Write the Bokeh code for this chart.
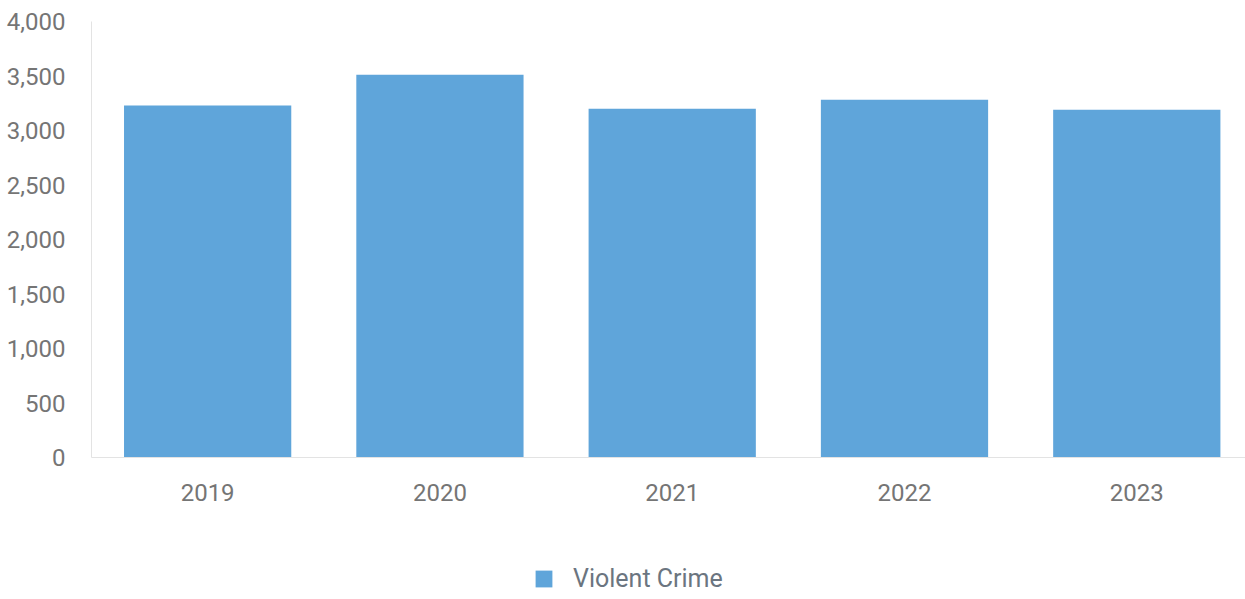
from bokeh.plotting import figure
from bokeh.layouts import column
from bokeh.models import Range1d, Legend, LegendItem, NumeralTickFormatter, FixedTicker, ColumnDataSource
from bokeh.embed import file_html
from bokeh.resources import INLINE

years = ["2019", "2020", "2021", "2022", "2023"]
violent_crime = [3229, 3511, 3199, 3282, 3190]
series_name = "Violent Crime"
y_ticks = [0, 500, 1000, 1500, 2000, 2500, 3000, 3500, 4000]
bar_color = "#5fa5da"

x_pos = list(range(len(years)))
src = ColumnDataSource(dict(x=x_pos, top=violent_crime, year=years))

p = figure(frame_width=1154, frame_height=436, output_backend="svg", toolbar_location=None,
           x_range=Range1d(-0.5, 4.468), y_range=Range1d(0, 4000),
           min_border_left=91, min_border_top=21, min_border_right=0, min_border_bottom=60)
p.outline_line_color = None
p.background_fill_color = "white"
p.border_fill_color = "white"

bars = p.vbar(x="x", top="top", bottom=0, width=0.72, source=src,
              fill_color=bar_color, line_color=None)

p.xgrid.visible = False
p.ygrid.visible = False

p.xaxis.ticker = FixedTicker(ticks=x_pos)
p.xaxis.major_label_overrides = {i: y for i, y in enumerate(years)}
p.yaxis.ticker = FixedTicker(ticks=y_ticks)
p.yaxis.formatter = NumeralTickFormatter(format="0,0")

for ax in (p.xaxis, p.yaxis):
    ax.axis_line_color = "#e3e3e3"
    ax.axis_line_width = 1
    ax.major_tick_line_color = None
    ax.minor_tick_line_color = None
    ax.major_label_text_font = "Roboto"
    ax.major_label_text_font_size = "24px"
    ax.major_label_text_color = "#757575"
p.xaxis.major_label_standoff = 20
p.yaxis.major_label_standoff = 20

# legend strip below the chart
q = figure(width=1245, height=82, output_backend="svg", toolbar_location=None,
           x_range=Range1d(0, 1), y_range=Range1d(0, 1),
           min_border_left=0, min_border_right=0, min_border_top=0, min_border_bottom=0)
q.outline_line_color = None
q.axis.visible = False
q.grid.visible = False
q.border_fill_color = "white"
# key renderer kept outside the visible range; only its legend swatch shows
key_src = ColumnDataSource(dict(x=[-5], top=[-5]))
key = q.vbar(x="x", top="top", bottom=-6, width=0.1, source=key_src,
             fill_color=bar_color, line_color=None)

legend = Legend(items=[LegendItem(label=series_name, renderers=[key])],
                location=(442, 6), orientation="horizontal",
                glyph_width=21, glyph_height=21, label_standoff=19,
                label_text_font="Roboto", label_text_font_size="25px",
                label_text_color="#6b7580", padding=0, margin=0, spacing=0,
                border_line_color=None, background_fill_alpha=0)
q.add_layout(legend, "center")

layout = column(p, q, spacing=0)
open("out.html", "w").write(file_html(layout, INLINE))
